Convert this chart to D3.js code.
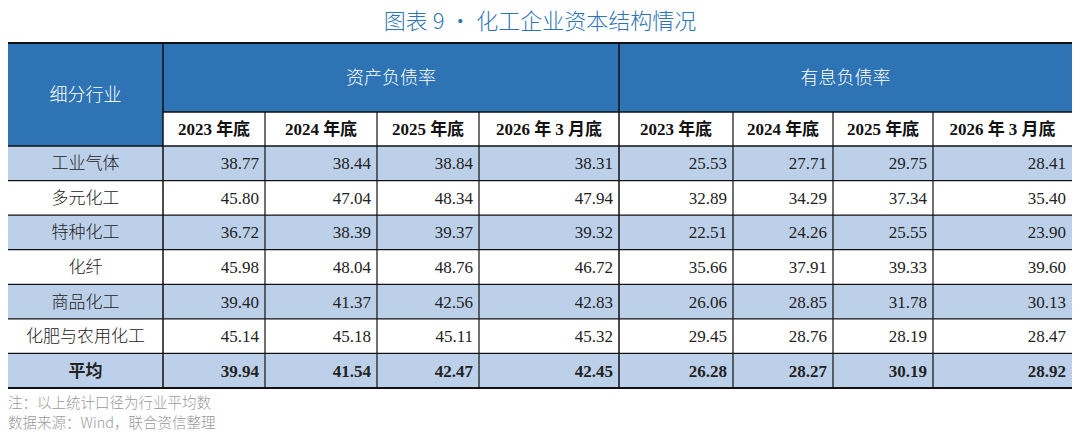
<!DOCTYPE html>
<meta charset="utf-8">
<script src="https://cdnjs.cloudflare.com/ajax/libs/d3/7.8.5/d3.min.js"></script>
<style>
  body { margin: 0; background: white; }
  text { font-family: "Liberation Serif", "Noto Sans CJK SC", serif; }
</style>
<body>
<div id="chart"></div>
<script>
var title = "图表 9 •  化工企业资本结构情况";
var groups = ["资产负债率", "有息负债率"];
var periods = ["2023 年底", "2024 年底", "2025 年底", "2026 年 3 月底"];
var industries = ["工业气体", "多元化工", "特种化工", "化纤", "商品化工", "化肥与农用化工", "平均"];
var assetRatio = [
  [38.77, 38.44, 38.84, 38.31],
  [45.80, 47.04, 48.34, 47.94],
  [36.72, 38.39, 39.37, 39.32],
  [45.98, 48.04, 48.76, 46.72],
  [39.40, 41.37, 42.56, 42.83],
  [45.14, 45.18, 45.11, 45.32],
  [39.94, 41.54, 42.47, 42.45]
];
var debtRatio = [
  [25.53, 27.71, 29.75, 28.41],
  [32.89, 34.29, 37.34, 35.40],
  [22.51, 24.26, 25.55, 23.90],
  [35.66, 37.91, 39.33, 39.60],
  [26.06, 28.85, 31.78, 30.13],
  [29.45, 28.76, 28.19, 28.47],
  [26.28, 28.27, 30.19, 28.92]
];
var notes = ["注：以上统计口径为行业平均数", "数据来源：Wind，联合资信整理"];

var W = 1080, H = 439;
var svg = d3.select("#chart").append("svg").attr("width", W).attr("height", H);

var blue = "#2E74B5", light = "#BDD0E9";
var colX = [8, 163, 265, 377, 479, 619, 733, 833, 933, 1072];
var topY = 43, midY = 112, headBot = 146, bot = 388;

var y = d3.scaleBand().domain(d3.range(industries.length)).range([headBot, bot]);

svg.append("text").attr("x", 540).attr("y", 29).attr("text-anchor", "middle")
  .attr("fill", blue).style("font-size", "22px")
  .style("font-family", "'Noto Sans CJK SC', sans-serif").style("font-weight", 300)
  .text(title);

// header backgrounds
svg.append("rect").attr("x", colX[0]).attr("y", topY).attr("width", colX[9] - colX[0])
  .attr("height", midY - topY).attr("fill", blue);
svg.append("rect").attr("x", colX[0]).attr("y", midY).attr("width", colX[1] - colX[0])
  .attr("height", headBot - midY).attr("fill", blue);

// body rows
industries.forEach(function (name, i) {
  svg.append("rect").attr("x", colX[0]).attr("y", y(i)).attr("width", colX[9] - colX[0])
    .attr("height", y.bandwidth()).attr("fill", i % 2 === 0 ? light : "white");
});

// header text
svg.append("text").attr("x", (colX[0] + colX[1]) / 2).attr("y", (topY + headBot) / 2 + 6)
  .attr("text-anchor", "middle").attr("fill", "white").style("font-size", "18px")
  .style("font-family", "'Noto Sans CJK SC'").style("font-weight", 300).text("细分行业");
groups.forEach(function (g, gi) {
  svg.append("text").attr("x", (colX[1 + gi * 4] + colX[5 + gi * 4]) / 2).attr("y", (topY + midY) / 2 + 6)
    .attr("text-anchor", "middle").attr("fill", "white").style("font-size", "18px")
    .style("font-family", "'Noto Sans CJK SC'").style("font-weight", 300).text(g);
  periods.forEach(function (p, pi) {
    var c = 1 + gi * 4 + pi;
    svg.append("text").attr("x", (colX[c] + colX[c + 1]) / 2).attr("y", (midY + headBot) / 2 + 6)
      .attr("text-anchor", "middle").attr("fill", "#111").style("font-size", "17px")
      .style("font-weight", "bold").text(p);
  });
});

// body text
industries.forEach(function (name, i) {
  var bold = i === industries.length - 1;
  var cy = y(i) + y.bandwidth() / 2 + 6;
  svg.append("text").attr("x", (colX[0] + colX[1]) / 2).attr("y", cy).attr("text-anchor", "middle")
    .attr("fill", "#222").style("font-size", "17px").style("font-weight", bold ? "bold" : 300)
    .style("font-family", "'Noto Sans CJK SC'").text(name);
  assetRatio[i].concat(debtRatio[i]).forEach(function (v, k) {
    svg.append("text").attr("x", colX[k + 2] - 6).attr("y", cy).attr("text-anchor", "end")
      .attr("fill", "#222").style("font-size", "17px").style("font-weight", bold ? "bold" : "normal")
      .text(v.toFixed(2));
  });
});

// grid lines
function line(x1, y1, x2, y2, w) {
  svg.append("line").attr("x1", x1).attr("y1", y1).attr("x2", x2).attr("y2", y2)
    .attr("stroke", "#111").attr("stroke-width", w);
}
line(colX[0], topY, colX[9], topY, 2);
line(colX[1], midY, colX[9], midY, 1.5);
line(colX[0], headBot, colX[9], headBot, 1.5);
industries.forEach(function (n, i) { if (i > 0) line(colX[0], y(i), colX[9], y(i), 1.2); });
line(colX[0], bot, colX[9], bot, 2);
colX.forEach(function (x, k) {
  if (k === 0 || k === 9) return;
  if (k === 1 || k === 5) line(x, topY, x, bot, 1.5);
  else line(x, midY, x, bot, 1.2);
});

notes.forEach(function (n, i) {
  svg.append("text").attr("x", 8).attr("y", 408 + i * 20).attr("fill", "#999")
    .style("font-size", "14.5px").style("font-family", "'Noto Sans CJK SC'").style("font-weight", 300)
    .text(n);
});
</script>
</body>
